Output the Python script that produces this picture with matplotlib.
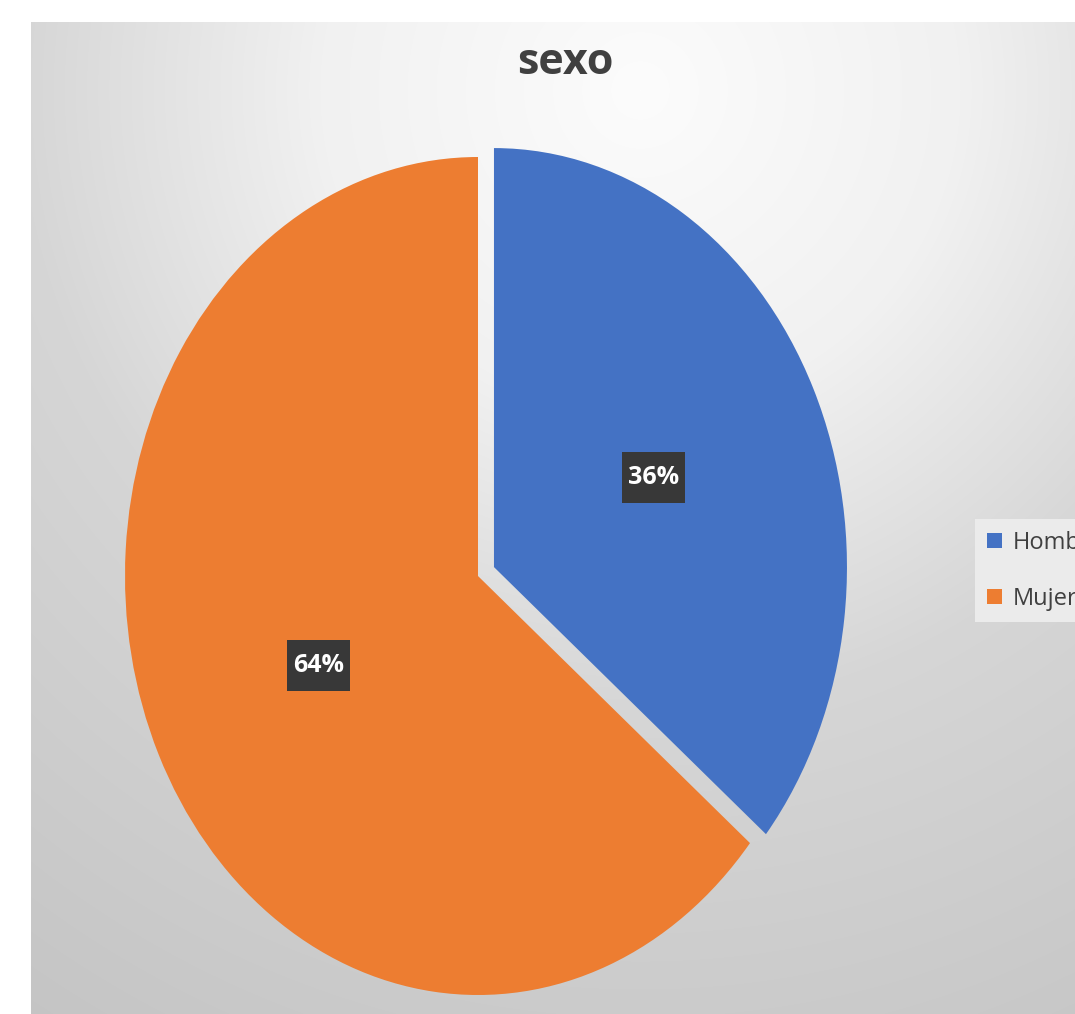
import numpy as np
import matplotlib
matplotlib.use("Agg")
import matplotlib.pyplot as plt
from matplotlib.patches import Rectangle
from matplotlib.transforms import IdentityTransform

# ---- data ----
categories = ["Hombres", "Mujeres"]
values = [36, 64]
colors = ["#4472C4", "#ED7D31"]
title = "sexo"

plt.rcParams['font.family'] = ['Open Sans', 'DejaVu Sans']

W, H = 1075, 1014
fig = plt.figure(figsize=(W / 100, H / 100), dpi=100)
fig.patch.set_facecolor("white")

# ---- background (radial gradient chart area) ----
x0, y0 = 31, 22
bg = fig.add_axes([x0 / W, 0, 1 - x0 / W, (H - y0) / H])
bg.set_axis_off()
xs = np.arange(x0, W)
ys = np.arange(y0, H)
XX, YY = np.meshgrid(xs, ys)
d = np.hypot(XX - 640, (YY - 90) * 1.0)
g = np.interp(d, [0, 320, 620, 1150], [252, 241, 214, 195]) / 255.0
img = np.dstack([g, g, g])
bg.imshow(img, aspect="auto", extent=(0, 1, 0, 1), origin="upper")
bg.set_xlim(0, 1)
bg.set_ylim(0, 1)

# ---- pie ----
cx, cy, rx, ry = 478, 576, 353, 419
ax = fig.add_axes([0, 0, 1, 1])
ax.patch.set_alpha(0)
wedges, texts, autotexts = ax.pie(
    values, colors=colors, startangle=90, counterclock=False,
    explode=[0.05, 0], autopct="%1.0f%%", pctdistance=0.5,
    textprops=dict(color="white", fontsize=18, fontweight="bold"),
    wedgeprops=dict(linewidth=0),
)
ax.set_aspect("auto")
ax.set_xlim(-cx / rx, (W - cx) / rx)
ax.set_ylim(-(H - cy) / ry, cy / ry)
ax.set_axis_off()

# label boxes
fig.canvas.draw()
for t in autotexts:
    t.set_zorder(6)
    bb = t.get_window_extent()
    padx, pady = 6, 13
    r = Rectangle((bb.x0 - padx, bb.y0 - pady), bb.width + 2 * padx, bb.height + 2 * pady,
                  transform=IdentityTransform(), facecolor="#383838", edgecolor="none",
                  zorder=5)
    ax.add_artist(r)

# ---- title ----
fig.text(565 / W, 1 - 62 / H, title, ha="center", va="center",
         fontsize=31, fontweight="bold", color="#404040")

# ---- legend ----
leg = ax.legend(wedges, categories, loc="upper left",
                bbox_to_anchor=(975 / W, 1 - 519 / H), bbox_transform=fig.transFigure,
                borderaxespad=0,
                frameon=True, facecolor="#ebebeb", edgecolor="none", framealpha=1,
                fontsize=17, handlelength=0.64, handleheight=0.64,
                labelspacing=1.35, borderpad=0.5, handletextpad=0.45, fancybox=False)
leg.set_zorder(7)
for txt in leg.get_texts():
    txt.set_color("#404040")

fig.savefig("out.png", dpi=100)
